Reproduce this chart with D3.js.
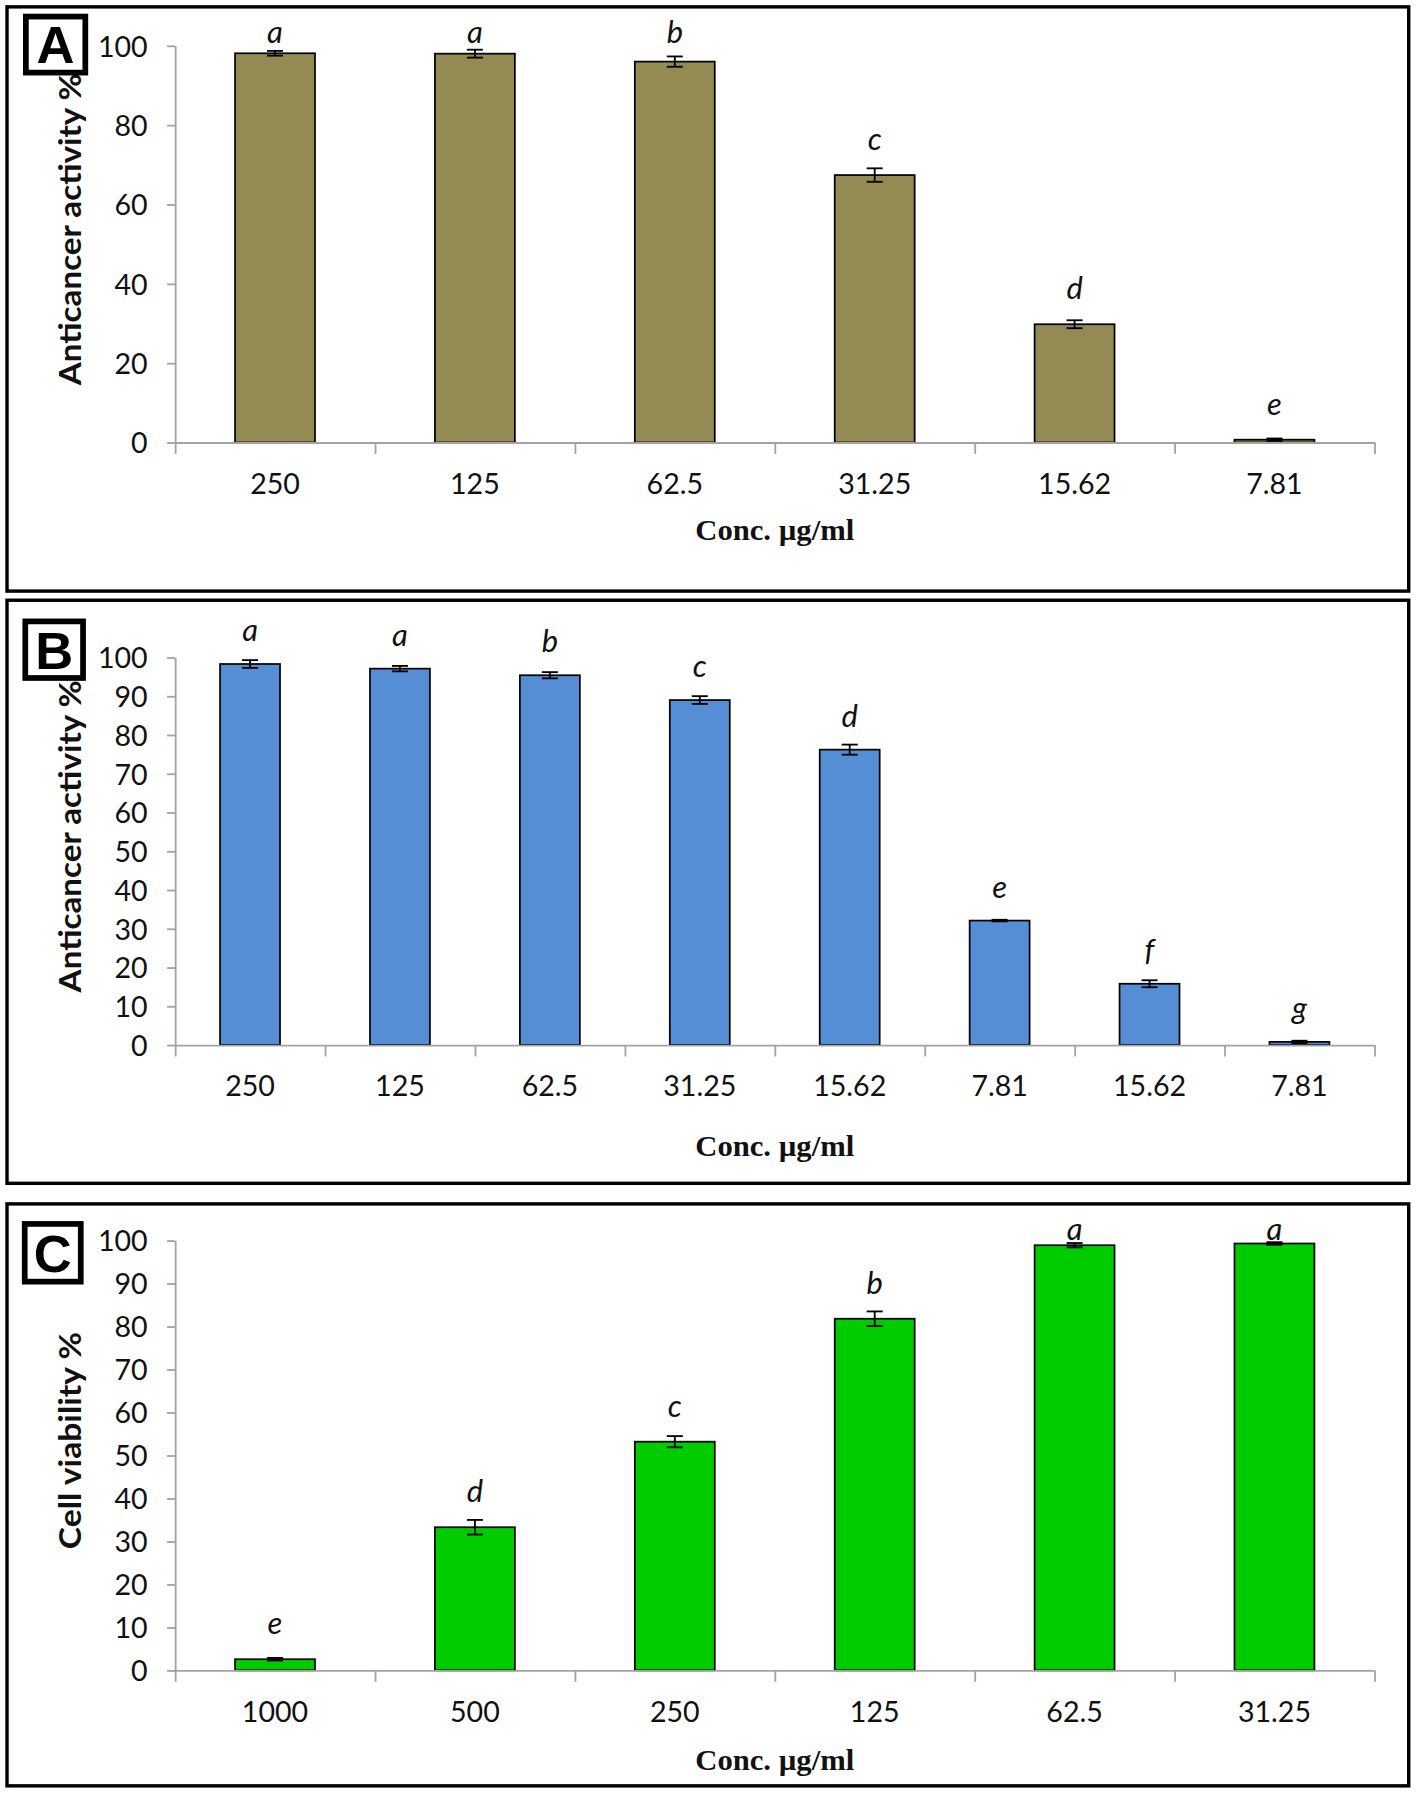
<!DOCTYPE html>
<html>
<head>
<meta charset="utf-8">
<script src="https://cdn.jsdelivr.net/npm/d3@7"></script>
<style>
  html, body { margin: 0; padding: 0; background: #ffffff; }
  svg { display: block; }
</style>
</head>
<body>
<div id="chart"></div>
<script>
// Panel A - anticancer activity (olive bars)
const panelALabels = ["250", "125", "62.5", "31.25", "15.62", "7.81"]
const panelAValues = [98.1, 98.0, 96.0, 67.4, 29.8, 0.7]
const panelAErrors = [0.6, 1.0, 1.3, 1.7, 1.0, 0.3]
const panelALetters = ["a", "a", "b", "c", "d", "e"]
const panelATicks = [0, 20, 40, 60, 80, 100]

// Panel B - anticancer activity (blue bars)
const panelBLabels = ["250", "125", "62.5", "31.25", "15.62", "7.81", "15.62", "7.81"]
const panelBValues = [98.3, 97.1, 95.4, 89.0, 76.2, 32.1, 15.8, 0.8]
const panelBErrors = [1.0, 0.7, 0.8, 1.0, 1.3, 0.2, 0.9, 0.3]
const panelBLetters = ["a", "a", "b", "c", "d", "e", "f", "g"]
const panelBTicks = [0, 10, 20, 30, 40, 50, 60, 70, 80, 90, 100]

// Panel C - cell viability (green bars)
const panelCLabels = ["1000", "500", "250", "125", "62.5", "31.25"]
const panelCValues = [2.6, 33.3, 53.2, 81.8, 98.9, 99.3]
const panelCErrors = [0.3, 1.7, 1.3, 1.7, 0.5, 0.3]
const panelCLetters = ["e", "d", "c", "b", "a", "a"]
const panelCTicks = [0, 10, 20, 30, 40, 50, 60, 70, 80, 90, 100]

const W = 1240, H = 1570

const panels = [
  {
    tag: "A", labels: panelALabels, values: panelAValues, errors: panelAErrors,
    letters: panelALetters, ticks: panelATicks, color: "#948A54",
    yTitle: "Anticancer activity %", yTitleLen: 273,
    frame: [6, 6, 1226, 511], tagBox: [22.5, 14.5, 52, 49],
    y0: 387, y100: 40, letterGap: 22, letterMinY: 38, xTitleOffset: 85
  },
  {
    tag: "B", labels: panelBLabels, values: panelBValues, errors: panelBErrors,
    letters: panelBLetters, ticks: panelBTicks, color: "#558ED5",
    yTitle: "Anticancer activity %", yTitleLen: 273,
    frame: [6, 525, 1226, 510], tagBox: [22, 543.5, 50.5, 49.5],
    y0: 914, y100: 575, letterGap: 20, letterMinY: -1000, xTitleOffset: 97
  },
  {
    tag: "C", labels: panelCLabels, values: panelCValues, errors: panelCErrors,
    letters: panelCLetters, ticks: panelCTicks, color: "#00CC00",
    yTitle: "Cell viability %", yTitleLen: 190,
    frame: [6, 1053, 1226, 509], tagBox: [21.5, 1070.5, 49, 50.5],
    y0: 1461, y100: 1085, letterGap: 22, letterMinY: 1085, xTitleOffset: 87
  }
]

const svg = d3.select("#chart")
  .append("svg")
  .attr("width", 1418)
  .attr("height", 1795)
  .attr("viewBox", `0 0 ${W} ${H}`)

svg.append("rect")
  .attr("width", W)
  .attr("height", H)
  .attr("fill", "#ffffff")

const plotLeft = 153
const plotRight = 1202
const axisColor = "#A3A3A3"
const textColor = "#111111"

panels.forEach(p => drawPanel(p))

function drawPanel(p) {
  const g = svg.append("g")
  const n = p.values.length
  const idx = d3.range(n)

  // Outer frame
  g.append("rect")
    .attr("x", p.frame[0])
    .attr("y", p.frame[1])
    .attr("width", p.frame[2])
    .attr("height", p.frame[3])
    .attr("fill", "none")
    .attr("stroke", "#000")
    .attr("stroke-width", 3)

  // Scales
  const x = d3.scaleBand()
    .domain(idx)
    .range([plotLeft, plotRight])
    .paddingInner(0.6)
    .paddingOuter(0.3)

  const xEdges = d3.scaleLinear()
    .domain([0, n])
    .range([plotLeft, plotRight])

  const y = d3.scaleLinear()
    .domain([0, 100])
    .range([p.y0, p.y100])

  // Y axis
  const yAxis = g.append("g")
    .attr("transform", `translate(${plotLeft},0)`)
    .call(d3.axisLeft(y)
      .tickValues(p.ticks)
      .tickSize(7)
      .tickSizeOuter(0)
      .tickPadding(17)
      .tickFormat(d3.format("d")))

  yAxis.selectAll("text")
    .style("font-family", "Lato, 'Noto Sans', sans-serif")
    .style("font-size", "25px")
    .attr("fill", textColor)
    .attr("dy", "0.36em")

  // Bars
  g.selectAll(".bar")
    .data(idx)
    .enter()
    .append("rect")
    .attr("class", "bar")
    .attr("x", i => x(i))
    .attr("width", x.bandwidth())
    .attr("y", i => y(p.values[i]))
    .attr("height", i => p.y0 - y(p.values[i]))
    .attr("fill", p.color)
    .attr("stroke", "#000")
    .attr("stroke-width", 1.5)

  // X axis line with category boundary ticks
  g.append("g")
    .attr("transform", `translate(0,${p.y0})`)
    .call(d3.axisBottom(xEdges)
      .tickValues(d3.range(n + 1))
      .tickSize(10)
      .tickSizeOuter(0)
      .tickFormat(""))

  // Category labels
  const xLabels = g.append("g")
    .attr("transform", `translate(0,${p.y0})`)
    .call(d3.axisBottom(x)
      .tickSize(0)
      .tickPadding(27)
      .tickFormat(i => p.labels[i]))

  xLabels.select(".domain").remove()
  xLabels.selectAll("text")
    .style("font-family", "Lato, 'Noto Sans', sans-serif")
    .style("font-size", "25px")
    .attr("fill", textColor)

  // Axis styling
  g.selectAll(".domain, .tick line")
    .attr("stroke", axisColor)
    .attr("stroke-width", 1.6)

  // Error bars
  const cap = 7
  const err = g.selectAll(".err")
    .data(idx)
    .enter()
    .append("g")
    .attr("class", "err")
    .attr("stroke", "#000")
    .attr("stroke-width", 1.6)

  err.append("line")
    .attr("x1", i => x(i) + x.bandwidth() / 2)
    .attr("x2", i => x(i) + x.bandwidth() / 2)
    .attr("y1", i => y(p.values[i] - p.errors[i]))
    .attr("y2", i => y(p.values[i] + p.errors[i]))

  err.append("line")
    .attr("x1", i => x(i) + x.bandwidth() / 2 - cap)
    .attr("x2", i => x(i) + x.bandwidth() / 2 + cap)
    .attr("y1", i => y(p.values[i] + p.errors[i]))
    .attr("y2", i => y(p.values[i] + p.errors[i]))

  err.append("line")
    .attr("x1", i => x(i) + x.bandwidth() / 2 - cap)
    .attr("x2", i => x(i) + x.bandwidth() / 2 + cap)
    .attr("y1", i => y(p.values[i] - p.errors[i]))
    .attr("y2", i => y(p.values[i] - p.errors[i]))

  // Significance letters
  g.selectAll(".letter")
    .data(idx)
    .enter()
    .append("text")
    .attr("class", "letter")
    .attr("x", i => x(i) + x.bandwidth() / 2)
    .attr("y", i => Math.max(y(p.values[i]) - p.letterGap, p.letterMinY))
    .attr("text-anchor", "middle")
    .style("font-family", "Lato, 'Noto Sans', sans-serif")
    .style("font-style", "italic")
    .style("font-size", "27px")
    .attr("fill", textColor)
    .text(i => p.letters[i])

  // Y axis title
  const yMid = (p.y0 + p.y100) / 2 - 13
  g.append("text")
    .attr("transform", `translate(71,${yMid}) rotate(-90)`)
    .attr("text-anchor", "middle")
    .attr("textLength", p.yTitleLen)
    .attr("lengthAdjust", "spacingAndGlyphs")
    .style("font-family", "Lato, 'Noto Sans', sans-serif")
    .style("font-weight", "700")
    .style("font-size", "27px")
    .attr("fill", textColor)
    .text(p.yTitle)

  // X axis title
  g.append("text")
    .attr("x", (plotLeft + plotRight) / 2)
    .attr("y", p.y0 + p.xTitleOffset)
    .attr("text-anchor", "middle")
    .attr("textLength", 139)
    .attr("lengthAdjust", "spacingAndGlyphs")
    .style("font-family", "'Liberation Serif', 'Times New Roman', serif")
    .style("font-weight", "700")
    .style("font-size", "26px")
    .attr("fill", textColor)
    .text("Conc. µg/ml")

  // Panel tag box
  const tb = p.tagBox
  g.append("rect")
    .attr("x", tb[0])
    .attr("y", tb[1])
    .attr("width", tb[2])
    .attr("height", tb[3])
    .attr("fill", "#fff")
    .attr("stroke", "#000")
    .attr("stroke-width", 5)

  g.append("text")
    .attr("x", tb[0] + tb[2] / 2)
    .attr("y", tb[1] + tb[3] / 2 + 16.5)
    .attr("text-anchor", "middle")
    .style("font-family", "'Liberation Sans', Arial, sans-serif")
    .style("font-weight", "700")
    .style("font-size", "46px")
    .attr("fill", "#000")
    .text(p.tag)
}
</script>
</body>
</html>
